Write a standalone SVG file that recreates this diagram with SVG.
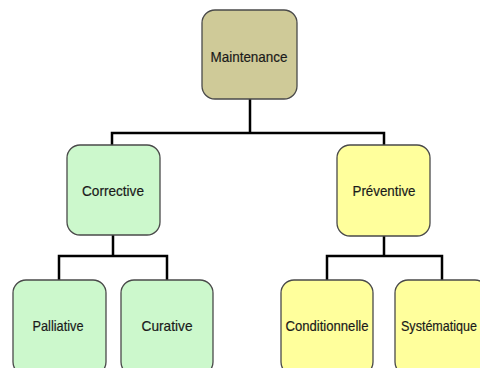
<svg xmlns="http://www.w3.org/2000/svg" width="480" height="368" viewBox="0 0 480 368">
  <style>
    .box { stroke: #4a4a4a; stroke-width: 1.3; }
    .root { fill: #cfca98; }
    .corr { fill: #ccf8cc; }
    .prev { fill: #ffff9c; }
    .lbl { font-family: "Liberation Sans", Arial, sans-serif; font-size: 15px; fill: #1a1a1a; stroke: #1a1a1a; stroke-width: 0.2; text-anchor: middle; }
    .wire { fill: none; stroke: #000; stroke-width: 2.5; stroke-linejoin: miter; }
  </style>
  <rect width="480" height="368" fill="#fff"/>

  <g id="connectors">
    <path class="wire" d="M250,99 V133 M112,145 V133 H384 V145"/>
    <path class="wire" d="M113,235 V256 M59,280 V256 H167 V280"/>
    <path class="wire" d="M384,236 V256 M327,280 V256 H442 V280"/>
  </g>

  <g id="maintenance">
    <rect class="box root" x="202" y="10" width="95" height="89" rx="13"/>
    <text class="lbl" x="249" y="62" textLength="77" lengthAdjust="spacingAndGlyphs">Maintenance</text>
  </g>

  <g id="corrective">
    <rect class="box corr" x="67" y="145" width="93" height="90" rx="13"/>
    <text class="lbl" x="113" y="196" textLength="62" lengthAdjust="spacingAndGlyphs">Corrective</text>
  </g>

  <g id="preventive">
    <rect class="box prev" x="337" y="145" width="93" height="91" rx="13"/>
    <text class="lbl" x="384" y="196" textLength="63" lengthAdjust="spacingAndGlyphs">Préventive</text>
  </g>

  <g id="palliative">
    <rect class="box corr" x="13" y="280" width="93" height="95" rx="13"/>
    <text class="lbl" x="58" y="331" textLength="51" lengthAdjust="spacingAndGlyphs">Palliative</text>
  </g>

  <g id="curative">
    <rect class="box corr" x="121" y="280" width="92" height="95" rx="13"/>
    <text class="lbl" x="167" y="331" textLength="51" lengthAdjust="spacingAndGlyphs">Curative</text>
  </g>

  <g id="conditionnelle">
    <rect class="box prev" x="281" y="280" width="92" height="95" rx="13"/>
    <text class="lbl" x="327" y="331" textLength="83" lengthAdjust="spacingAndGlyphs">Conditionnelle</text>
  </g>

  <g id="systematique">
    <rect class="box prev" x="395" y="280" width="93" height="95" rx="13"/>
    <text class="lbl" x="439" y="331" textLength="76" lengthAdjust="spacingAndGlyphs">Systématique</text>
  </g>
</svg>
